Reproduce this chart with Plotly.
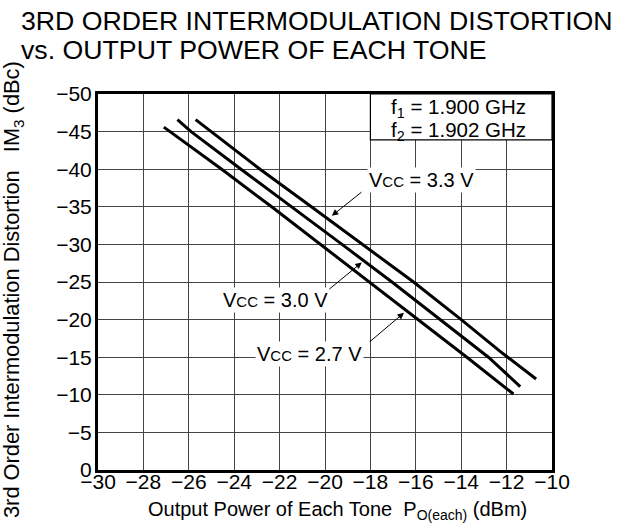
import plotly.graph_objects as go

# ---- data ----
x_27 = [-27.1, -24.55, -22.35, -20.2, -18.05, -15.9, -13.75, -11.7]
y_27 = [-45.6, -40.0, -35.0, -30.0, -25.0, -20.0, -15.0, -10.1]

x_30 = [-26.5, -25.9, -23.7, -21.45, -19.25, -17.05, -14.9, -12.8, -11.4]
y_30 = [-46.6, -45.0, -40.0, -35.0, -30.0, -25.0, -20.0, -15.0, -11.1]

x_33 = [-25.7, -22.86, -20.6, -18.34, -16.1, -14.0, -12.3, -10.7]
y_33 = [-46.6, -40.0, -35.0, -30.0, -25.0, -20.0, -15.8, -12.1]

x_ticks = list(range(-30, -9, 2))
y_ticks = list(range(-50, 1, 5))

FONT = "Liberation Sans, Arial, Helvetica, sans-serif"

W, H = 626, 529
L, R, T, B = 98, 74, 94, 59
PX0, PY1, PW, PH = L, H - B, W - L - R, H - T - B  # plot area in page pixels


def px(xp):
    return (xp - PX0) / PW


def py(yp):
    return (PY1 - yp) / PH


fig = go.Figure()
for xs, ys in [(x_27, y_27), (x_30, y_30), (x_33, y_33)]:
    fig.add_trace(go.Scatter(x=xs, y=ys, mode="lines",
                             line=dict(color="black", width=3),
                             showlegend=False, hoverinfo="skip"))

axis_common = dict(showgrid=True, gridcolor="#444", gridwidth=1.3,
                   showline=True, linecolor="black", linewidth=3, mirror=True,
                   zeroline=False, ticks="", tickfont=dict(size=21, color="black", family=FONT))

fig.update_xaxes(range=[-30, -10], tickvals=x_ticks, ticklabelstandoff=-9, **axis_common)
fig.update_yaxes(range=[0, -50], tickvals=y_ticks, ticklabelstandoff=-1, **axis_common)

# condition box
fig.add_shape(type="rect", xref="x", yref="y", x0=-18, x1=-10, y0=-50, y1=-43.9,
              fillcolor="white", line=dict(color="black", width=1.2), layer="between")


def vcc(v):
    return "V<span style='font-size:15px'>CC</span> = " + v + " V"


annos = [
    # titles
    dict(text="3RD ORDER INTERMODULATION DISTORTION", xref="paper", yref="paper",
         x=px(19), y=py(21), xanchor="left", yanchor="middle",
         showarrow=False, font=dict(size=26.7, color="black", family=FONT)),
    dict(text="vs. OUTPUT POWER OF EACH TONE", xref="paper", yref="paper",
         x=px(19), y=py(50), xanchor="left", yanchor="middle",
         showarrow=False, font=dict(size=26.7, color="black", family=FONT)),
    # axis titles
    dict(text="3rd Order Intermodulation Distortion\u00a0\u00a0\u00a0IM<sub>3</sub> (dBc)",
         xref="paper", yref="paper", x=px(13), y=py(290),
         xanchor="center", yanchor="middle", textangle=-90, showarrow=False,
         font=dict(size=21.8, color="black", family=FONT)),
    dict(text="Output Power of Each Tone\u00a0\u00a0P<sub>O(each)</sub> (dBm)",
         xref="paper", yref="paper", x=px(337), y=py(510),
         xanchor="center", yanchor="middle", showarrow=False,
         font=dict(size=20, color="black", family=FONT)),
    # condition text
    dict(text="f<sub>1</sub> = 1.900 GHz", x=-14.1, y=-48.2, showarrow=False,
         font=dict(size=20.5, color="black", family=FONT)),
    dict(text="f<sub>2</sub> = 1.902 GHz", x=-14.1, y=-45.1, showarrow=False,
         font=dict(size=20.5, color="black", family=FONT)),
    # Vcc labels
    dict(text=vcc("3.3"), x=-15.75, y=-38.6, showarrow=False, bgcolor="white", borderpad=1,
         font=dict(size=20, color="black", family=FONT)),
    dict(text=vcc("3.0"), x=-22.2, y=-22.6, showarrow=False, bgcolor="white", borderpad=1,
         font=dict(size=20, color="black", family=FONT)),
    dict(text=vcc("2.7"), x=-20.7, y=-15.4, showarrow=False, bgcolor="white", borderpad=1,
         font=dict(size=20, color="black", family=FONT)),
    # arrows
    dict(text="", x=-19.70, y=-33.8, ax=-18.33, ay=-37.1, axref="x", ayref="y",
         showarrow=True, arrowhead=2, arrowsize=1.3, arrowwidth=1, arrowcolor="black"),
    dict(text="", x=-18.38, y=-27.6, ax=-19.87, ay=-23.9, axref="x", ayref="y",
         showarrow=True, arrowhead=2, arrowsize=1.3, arrowwidth=1, arrowcolor="black"),
    dict(text="", x=-16.52, y=-20.9, ax=-18.09, ay=-16.9, axref="x", ayref="y",
         showarrow=True, arrowhead=2, arrowsize=1.3, arrowwidth=1, arrowcolor="black"),
]
for a in annos:
    fig.add_annotation(**a)

fig.update_layout(width=W, height=H,
                  margin=dict(l=L, r=R, t=T, b=B),
                  paper_bgcolor="white", plot_bgcolor="white",
                  font=dict(family=FONT, color="black"))

fig.write_html("out.html", config={"displayModeBar": False},
               post_script="document.body.style.margin='0';document.body.style.padding='0';")
